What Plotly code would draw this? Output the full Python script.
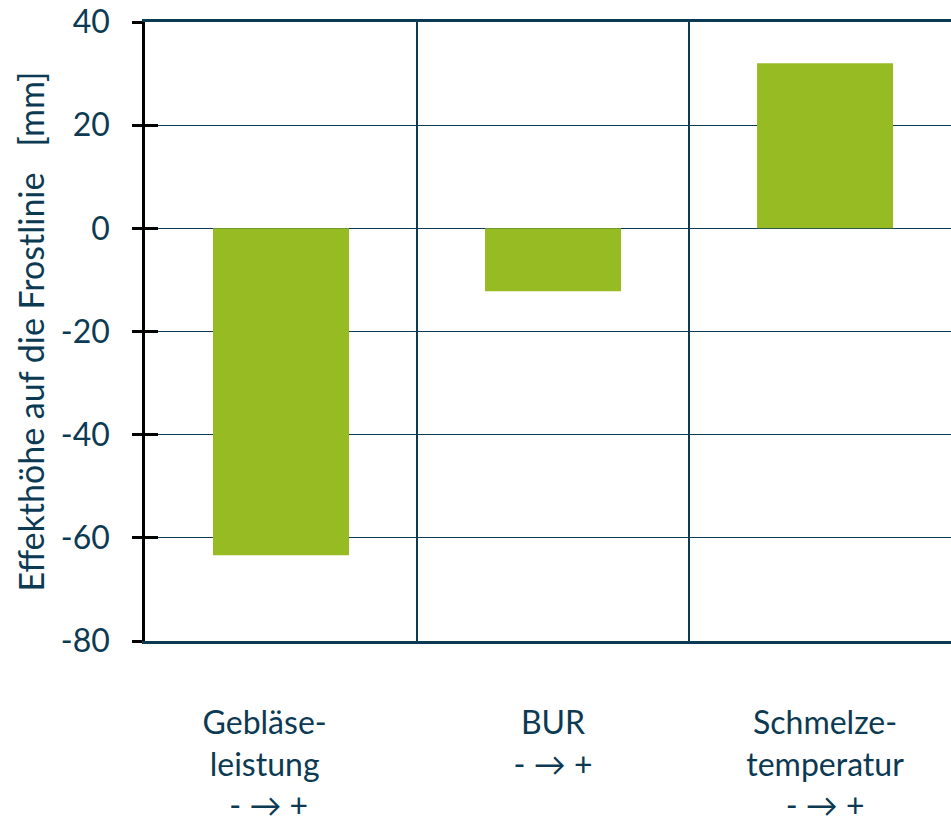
import plotly.graph_objects as go

# Effect of each process parameter on the frost line height
nb = "\u00a0"
categories = [
    f"Gebläse-{nb*4}<br>leistung{nb*4}<br>- → +{nb*3}",
    "BUR<br>- → +",
    "Schmelze-<br>temperatur<br>- → +",
]
effects = [-63.4, -12.2, 32.0]
y_ticks = [-80, -60, -40, -20, 0, 20, 40]
y_tick_text = ["-80", "-60", "-40", "-20", "0", "20", "40"]
y_title = f"Effekthöhe auf die Frostlinie{nb*3}[mm]"

navy = "#0c3a52"
green = "#97bb23"
font_family = "Lato, 'Open Sans', sans-serif"

fig = go.Figure()
fig.add_trace(go.Bar(
    x=list(range(len(categories))),
    y=effects,
    width=0.5,
    marker=dict(color=green, line=dict(width=0)),
    showlegend=False,
))
# invisible helper traces so the overlay axes render
fig.add_trace(go.Scatter(x=[0], y=[0], xaxis="x2", yaxis="y", mode="markers",
                         marker=dict(opacity=0), showlegend=False, hoverinfo="skip"))
fig.add_trace(go.Scatter(x=[0], y=[0], xaxis="x", yaxis="y2", mode="markers",
                         marker=dict(opacity=0), showlegend=False, hoverinfo="skip"))

x_range = [-0.5, 2.463]
fig.update_layout(
    width=951, height=825,
    margin=dict(l=145, r=0, t=22, b=184),
    paper_bgcolor="white", plot_bgcolor="white",
    font=dict(family=font_family, color=navy, size=32),
    xaxis=dict(
        range=x_range,
        tickvals=list(range(len(categories))),
        ticktext=categories,
        showgrid=False, zeroline=False,
        showline=True, linecolor=navy, linewidth=2.5, mirror=True,
        ticks="", ticklabelstandoff=52,
        tickfont=dict(size=32, color=navy),
    ),
    xaxis2=dict(
        overlaying="x", range=x_range,
        tickvals=[0.5, 1.5], showticklabels=False, ticks="",
        showgrid=True, gridcolor=navy, gridwidth=1.5, zeroline=False,
        showline=False,
    ),
    yaxis=dict(
        range=[-80, 40],
        tickvals=y_ticks,
        ticktext=y_tick_text,
        showgrid=True, gridcolor=navy, gridwidth=1, zeroline=False,
        showline=True, linecolor="black", linewidth=2.5,
        ticks="outside", ticklen=10, tickwidth=2.5, tickcolor="black",
        ticklabelstandoff=16,
        tickfont=dict(size=32, color=navy),
        title=dict(text=y_title, font=dict(size=34, color=navy), standoff=6),
    ),
    yaxis2=dict(
        overlaying="y", range=[-80, 40],
        tickvals=y_ticks, showticklabels=False, showgrid=False, zeroline=False,
        ticks="inside", ticklen=13, tickwidth=2.5, tickcolor="black",
        showline=False,
    ),
)

fig.write_html("out.html")
